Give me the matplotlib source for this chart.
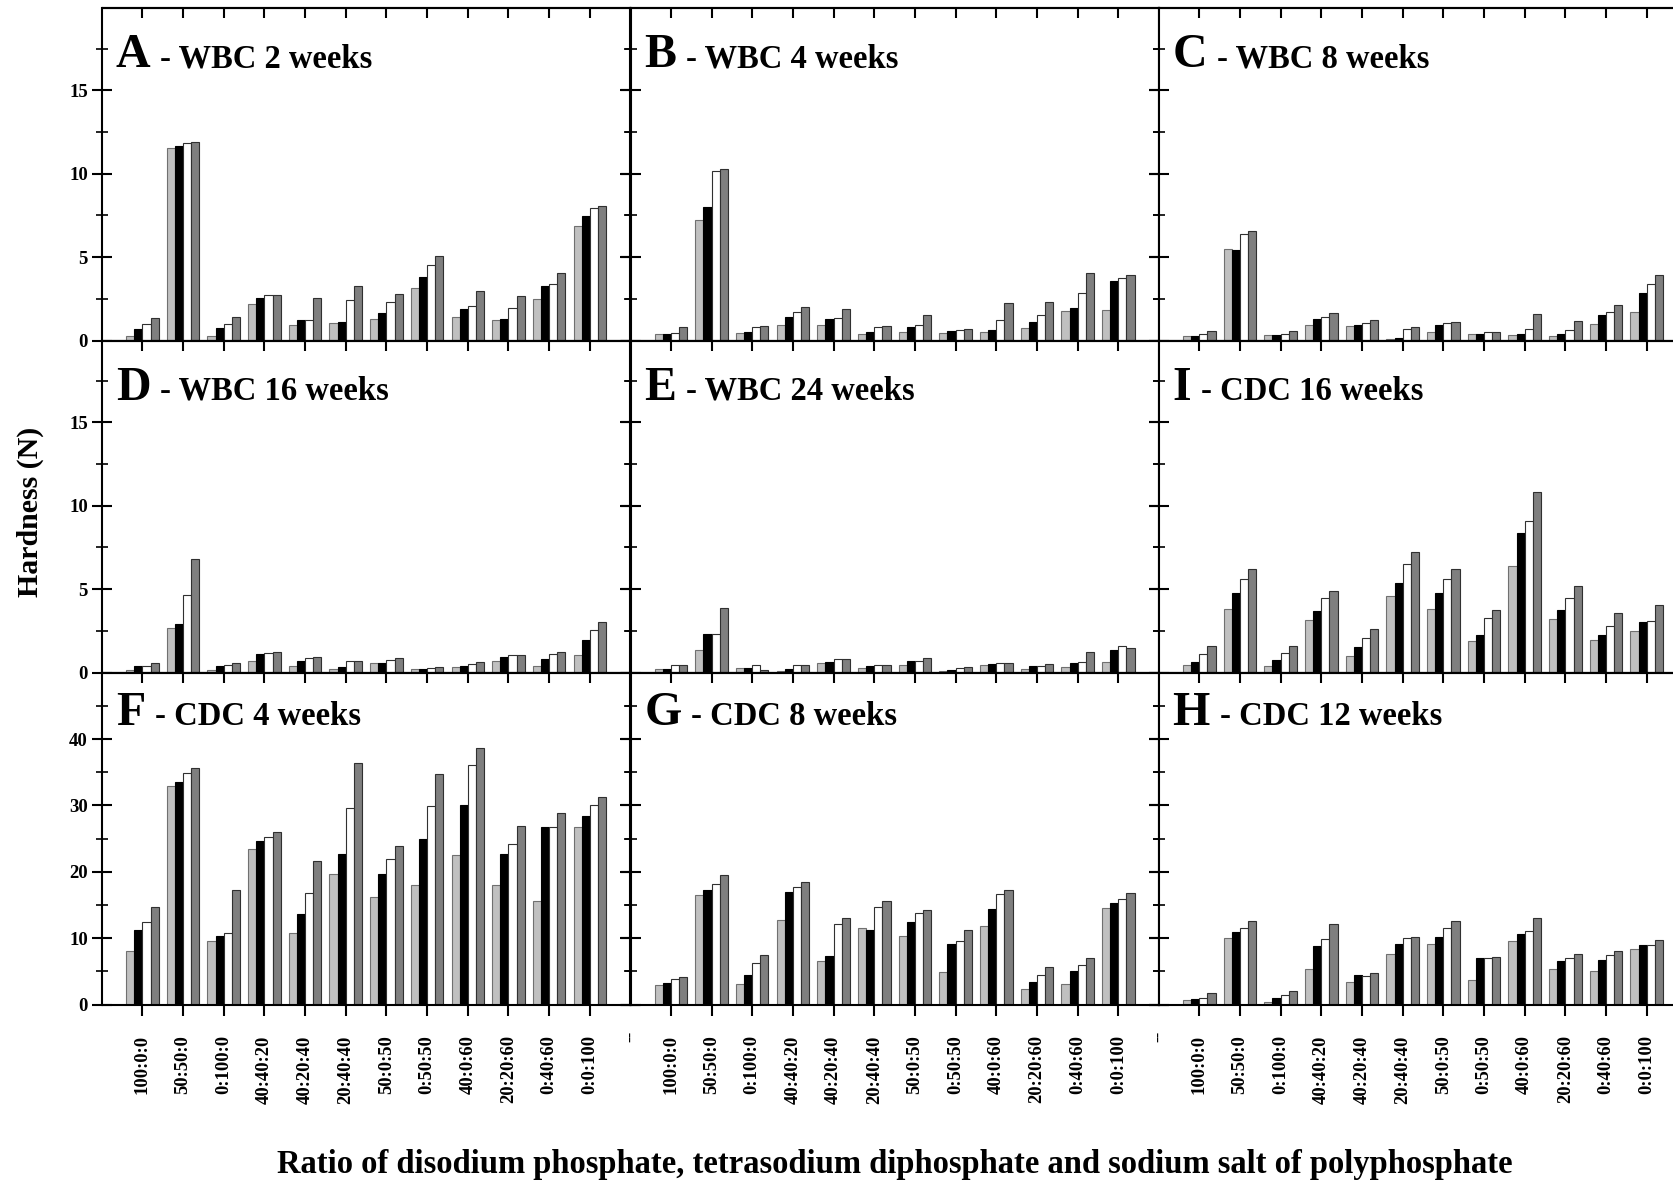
import matplotlib.pyplot as plt
import numpy as np

plt.rcParams['font.family'] = ['Liberation Serif', 'DejaVu Serif']
plt.rcParams['font.weight'] = 'bold'

categories = ["100:0:0", "50:50:0", "0:100:0", "40:40:20", "40:20:40", "20:40:40",
              "50:0:50", "0:50:50", "40:0:60", "20:20:60", "0:40:60", "0:0:100"]

# four bars per ratio: light grey, black, white, dark grey
wbc_2 = [[0.24, 11.56, 0.28, 2.20, 0.90, 1.06, 1.28, 3.13, 1.40, 1.24, 2.51, 6.85],
         [0.68, 11.64, 0.72, 2.53, 1.24, 1.12, 1.66, 3.81, 1.88, 1.30, 3.27, 7.47],
         [1.00, 11.86, 1.00, 2.71, 1.24, 2.44, 2.28, 4.55, 2.06, 1.92, 3.41, 7.96],
         [1.36, 11.88, 1.40, 2.75, 2.57, 3.27, 2.79, 5.07, 2.95, 2.65, 4.05, 8.06]]
wbc_4 = [[0.38, 7.20, 0.44, 0.94, 0.94, 0.38, 0.48, 0.44, 0.48, 0.74, 1.78, 1.84],
         [0.40, 7.98, 0.48, 1.38, 1.30, 0.48, 0.78, 0.58, 0.62, 1.10, 1.92, 3.59],
         [0.44, 10.18, 0.78, 1.68, 1.34, 0.82, 0.94, 0.64, 1.20, 1.52, 2.83, 3.77],
         [0.78, 10.26, 0.84, 2.00, 1.88, 0.88, 1.52, 0.68, 2.24, 2.32, 4.07, 3.91]]
wbc_8 = [[0.26, 5.51, 0.32, 0.94, 0.88, 0.10, 0.48, 0.38, 0.32, 0.26, 1.00, 1.72],
         [0.26, 5.43, 0.32, 1.26, 0.94, 0.12, 0.94, 0.40, 0.38, 0.40, 1.54, 2.87],
         [0.40, 6.37, 0.40, 1.40, 1.04, 0.68, 1.06, 0.48, 0.68, 0.62, 1.70, 3.37],
         [0.56, 6.59, 0.56, 1.64, 1.24, 0.78, 1.10, 0.52, 1.58, 1.16, 2.10, 3.93]]
wbc_16 = [[0.18, 2.65, 0.18, 0.72, 0.42, 0.24, 0.60, 0.24, 0.36, 0.72, 0.40, 1.08],
          [0.40, 2.91, 0.38, 1.14, 0.70, 0.34, 0.60, 0.24, 0.38, 0.92, 0.80, 1.93],
          [0.40, 4.64, 0.46, 1.16, 0.86, 0.70, 0.76, 0.30, 0.50, 1.04, 1.14, 2.53],
          [0.56, 6.81, 0.56, 1.22, 0.96, 0.70, 0.86, 0.32, 0.66, 1.08, 1.24, 3.01]]
wbc_24 = [[0.22, 1.35, 0.26, 0.12, 0.56, 0.28, 0.44, 0.10, 0.44, 0.22, 0.32, 0.66],
          [0.24, 2.29, 0.30, 0.24, 0.62, 0.40, 0.68, 0.16, 0.50, 0.38, 0.56, 1.35],
          [0.44, 2.29, 0.48, 0.44, 0.80, 0.46, 0.70, 0.28, 0.60, 0.38, 0.66, 1.57],
          [0.48, 3.86, 0.18, 0.48, 0.80, 0.48, 0.86, 0.32, 0.60, 0.54, 1.24, 1.49]]
cdc_16 = [[0.44, 3.80, 0.40, 3.13, 1.02, 4.62, 3.80, 1.87, 6.39, 3.19, 1.97, 2.49],
          [0.64, 4.80, 0.78, 3.67, 1.55, 5.36, 4.80, 2.25, 8.35, 3.76, 2.25, 3.03],
          [1.14, 5.64, 1.18, 4.50, 2.07, 6.49, 5.64, 3.29, 9.10, 4.50, 2.77, 3.11],
          [1.61, 6.22, 1.61, 4.90, 2.59, 7.21, 6.22, 3.78, 10.82, 5.22, 3.59, 4.08]]
cdc_4 = [[8.10, 32.85, 9.60, 23.50, 10.75, 19.60, 16.25, 17.95, 22.50, 17.95, 15.55, 26.70],
         [11.25, 33.50, 10.30, 24.60, 13.65, 22.70, 19.65, 25.00, 30.10, 22.75, 26.70, 28.45],
         [12.50, 34.90, 10.75, 25.25, 16.75, 29.60, 22.00, 29.85, 36.10, 24.25, 26.70, 30.10],
         [14.65, 35.70, 17.20, 26.05, 21.60, 36.40, 23.85, 34.80, 38.60, 26.95, 28.90, 31.30]]
cdc_8 = [[2.90, 16.50, 3.15, 12.70, 6.60, 11.50, 10.35, 4.85, 11.80, 2.35, 3.15, 14.55],
         [3.20, 17.30, 4.50, 17.00, 7.30, 11.30, 12.45, 9.20, 14.45, 3.45, 5.00, 15.25],
         [3.85, 18.20, 6.30, 17.65, 12.10, 14.65, 13.75, 9.55, 16.60, 4.50, 5.95, 15.90],
         [4.20, 19.50, 7.50, 18.45, 13.10, 15.60, 14.30, 11.30, 17.30, 5.60, 6.95, 16.80]]
cdc_12 = [[0.65, 10.10, 0.40, 5.35, 3.40, 7.60, 9.15, 3.70, 9.55, 5.35, 5.00, 8.35],
          [0.85, 10.90, 0.95, 8.80, 4.50, 9.15, 10.25, 6.95, 10.70, 6.55, 6.65, 8.95],
          [1.05, 11.50, 1.45, 9.85, 4.30, 10.10, 11.55, 7.05, 11.15, 6.95, 7.45, 9.05],
          [1.75, 12.55, 2.00, 12.20, 4.80, 10.20, 12.55, 7.10, 13.10, 7.65, 8.05, 9.75]]

letters = [["A", "B", "C"], ["D", "E", "I"], ["F", "G", "H"]]
names = [["- WBC 2 weeks", "- WBC 4 weeks", "- WBC 8 weeks"],
         ["- WBC 16 weeks", "- WBC 24 weeks", "- CDC 16 weeks"],
         ["- CDC 4 weeks", "- CDC 8 weeks", "- CDC 12 weeks"]]
panels = [[wbc_2, wbc_4, wbc_8], [wbc_16, wbc_24, cdc_16], [cdc_4, cdc_8, cdc_12]]

bar_colors = ['#c0c0c0', '#000000', '#ffffff', '#7f7f7f']
edge_colors = ['#707070', '#000000', '#303030', '#303030']

W, H = 1674, 1184
fig = plt.figure(figsize=(W / 100, H / 100), dpi=100)

col_left = [102.5, 631, 1159.4]
col_w = 528
row_top = [8.5, 340.6, 672.6]
row_h = 332

x = np.arange(len(categories))
offsets = [-0.3, -0.1, 0.1, 0.3]

for r in range(3):
    for c in range(3):
        ax = fig.add_axes([col_left[c] / W, 1 - (row_top[r] + row_h) / H, col_w / W, row_h / H])
        data = panels[r][c]
        for k in range(4):
            ax.bar(x + offsets[k], data[k], width=0.2, color=bar_colors[k],
                   edgecolor=edge_colors[k], linewidth=0.8)
        ax.set_xlim(-0.98, 12.0)
        if r < 2:
            ax.set_ylim(0, 19.9)
            ax.set_yticks([0, 5, 10, 15])
            ax.set_yticks(np.arange(2.5, 19.9, 2.5), minor=True)
        else:
            ax.set_ylim(0, 50)
            ax.set_yticks([0, 10, 20, 30, 40])
            ax.set_yticks(np.arange(5, 50, 5), minor=True)
        for s in ax.spines.values():
            s.set_linewidth(1.5)
        ax.tick_params(axis='y', which='major', direction='inout', length=14, width=1.5,
                       left=True, right=True, labelsize=13.5, pad=3.5)
        ax.tick_params(axis='y', which='minor', direction='inout', length=9, width=1.2,
                       left=True, right=True)
        if c > 0:
            ax.tick_params(axis='y', labelleft=False)
        ax.set_xticks(x)
        ax.tick_params(axis='x', direction='out', length=8, width=1.5, top=False)
        if r == 2:
            ax.set_xticklabels(categories, rotation=90, fontsize=13.4, fontweight='bold')
            ax.tick_params(axis='x', pad=14)
        else:
            ax.set_xticklabels([])
        sec = ax.secondary_xaxis('top')
        sec.set_xticks(x)
        sec.tick_params(direction='in', length=7, width=1.5, labeltop=False)
        sec.spines['top'].set_linewidth(1.5)

        ybase = 1 - (59 if r < 2 else 52) / row_h
        lt = ax.text(0.025, ybase, letters[r][c], transform=ax.transAxes,
                     fontsize=34.5, fontweight='bold', va='baseline', ha='left')
        ax.annotate(names[r][c], xy=(1, ybase), xycoords=(lt, 'axes fraction'),
                    xytext=(7, 0), textcoords='offset points', fontsize=23.5,
                    fontweight='bold', va='baseline', ha='left')

for xp in [631, 1159.4]:
    fig.text(xp / W, 1 - 1036 / H, "--", rotation=90, fontsize=12, ha='center', va='center')

fig.text(30 / W, 1 - 512 / H, "Hardness (N)", rotation=90, fontsize=21.5,
         fontweight='bold', ha='center', va='center')
fig.text(894.5 / W, 1 - 1164 / H,
         "Ratio of disodium phosphate, tetrasodium diphosphate and sodium salt of polyphosphate",
         fontsize=23.5, fontweight='bold', ha='center', va='center')

fig.savefig("out.png", dpi=100)
